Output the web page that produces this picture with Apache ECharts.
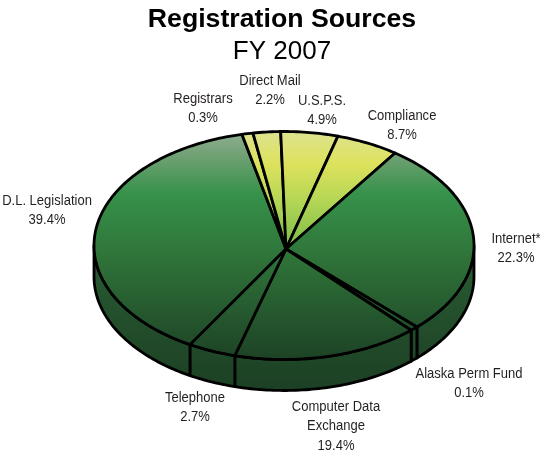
<!DOCTYPE html>
<html>
<head>
<meta charset="utf-8">
<style>
  html, body { margin: 0; padding: 0; background: #fff; }
  #chart { width: 540px; height: 451px; }
</style>
<script src="https://cdn.jsdelivr.net/npm/echarts@6/dist/echarts.min.js"></script>
</head>
<body>
<div id="chart"></div>
<script>
// starts at the Telephone / D.L. boundary and runs clockwise
let categories = ['D.L. Legislation', 'Registrars', 'Direct Mail', 'U.S.P.S.', 'Compliance', 'Internet*', 'Alaska Perm Fund', 'Computer Data\nExchange', 'Telephone'];
let printedPercent = [39.4, 0.3, 2.2, 4.9, 8.7, 22.3, 0.1, 19.4, 2.7];
// the artwork's wedges are not quite in proportion to the printed numbers, these are read off the rim
let drawnDegrees = [137.6, 3.4, 8.4, 17.5, 19.3, 99.8, 2.4, 57, 14.6];
let lightSlice = [false, true, true, true, true, false, false, false, false];
let startDegrees = 209.6;

let labelSpots = [[47, 200], [203, 98], [270, 80], [322, 100], [402, 115], [516, 238], [469, 373], [336, 406], [195, 397]];

let cx = 284, cy = 245.5, rx = 190, ry = 114, depth = 31;
let apex = [286, 249];

function rimPoint(deg, drop) {
    let a = deg * Math.PI / 180;
    return [cx + rx * Math.sin(a), cy - ry * Math.cos(a) + (drop || 0)];
}

function arcPoints(from, to, drop) {
    let pts = [];
    let n = Math.max(2, Math.ceil(Math.abs(to - from)));
    for (let i = 0; i <= n; i++) {
        pts.push(rimPoint(from + (to - from) * i / n, drop));
    }
    return pts;
}

function sliceRange(idx) {
    let from = startDegrees;
    for (let i = 0; i < idx; i++) from += drawnDegrees[i];
    return [from, from + drawnDegrees[idx]];
}

function shade(stops) {
    return { type: 'linear', x: 0, y: 132, x2: 0, y2: 360, global: true, colorStops: stops };
}

let greenFill = shade([
    { offset: 0, color: '#8fae90' },
    { offset: 0.12, color: '#6b9f70' },
    { offset: 0.27, color: '#36924a' },
    { offset: 0.55, color: '#2f7339' },
    { offset: 1, color: '#1d4225' }
]);
let yellowFill = shade([
    { offset: 0, color: '#dde38e' },
    { offset: 0.14, color: '#dde25c' },
    { offset: 0.3, color: '#b5d655' },
    { offset: 0.5, color: '#7dbd48' },
    { offset: 1, color: '#3f8a3c' }
]);
let wallFill = {
    type: 'linear', x: 0, y: 250, x2: 0, y2: 390, global: true,
    colorStops: [{ offset: 0, color: '#2a5c33' }, { offset: 1, color: '#1c4024' }]
};

function renderWall(params) {
    let r = sliceRange(params.dataIndex);
    // the front of the disc only, between the two ends of the ellipse
    let segments = [[r[0], r[1]], [r[0] - 360, r[1] - 360]];
    let kids = [];
    segments.forEach(function (s) {
        let from = Math.max(s[0], 90), to = Math.min(s[1], 270);
        if (to <= from) return;
        let pts = arcPoints(from, to, 0).concat(arcPoints(to, from, depth));
        kids.push({
            type: 'polygon',
            shape: { points: pts },
            style: { fill: wallFill, stroke: '#000', lineWidth: 2.8, lineJoin: 'round' }
        });
    });
    return { type: 'group', children: kids };
}

function renderTop(params) {
    let r = sliceRange(params.dataIndex);
    let pts = [apex].concat(arcPoints(r[0], r[1], 0));
    return {
        type: 'polygon',
        shape: { points: pts },
        style: {
            fill: lightSlice[params.dataIndex] ? yellowFill : greenFill,
            stroke: '#000',
            lineWidth: 2.8,
            lineJoin: 'round'
        }
    };
}

let labels = [];
categories.forEach(function (name, i) {
    labels.push({
        type: 'text',
        x: labelSpots[i][0],
        y: labelSpots[i][1] - 9,
        scaleX: 0.93,
        style: {
            text: name + '\n' + printedPercent[i].toFixed(1) + '%',
            x: 0,
            y: 0,
            align: 'center',
            fill: '#231f20',
            font: '14px "Liberation Sans", Arial, sans-serif',
            lineHeight: 19.5
        }
    });
});

let option = {
    animation: false,
    backgroundColor: '#fff',
    title: {
        text: 'Registration Sources',
        subtext: 'FY 2007',
        left: 277,
        top: 0,
        textAlign: 'center',
        itemGap: 2,
        textStyle: { fontFamily: 'Liberation Sans', fontSize: 26.7, fontWeight: 'bold', color: '#000', lineHeight: 30 },
        subtextStyle: { fontFamily: 'Liberation Sans', fontSize: 26, color: '#000', lineHeight: 30 }
    },
    graphic: labels,
    series: [
        { type: 'custom', coordinateSystem: 'none', silent: true, data: drawnDegrees, renderItem: renderWall, z: 1 },
        { type: 'custom', coordinateSystem: 'none', silent: true, data: drawnDegrees, renderItem: renderTop, z: 2 }
    ]
};

let chart = echarts.init(document.getElementById('chart'));
chart.setOption(option);
</script>
</body>
</html>
